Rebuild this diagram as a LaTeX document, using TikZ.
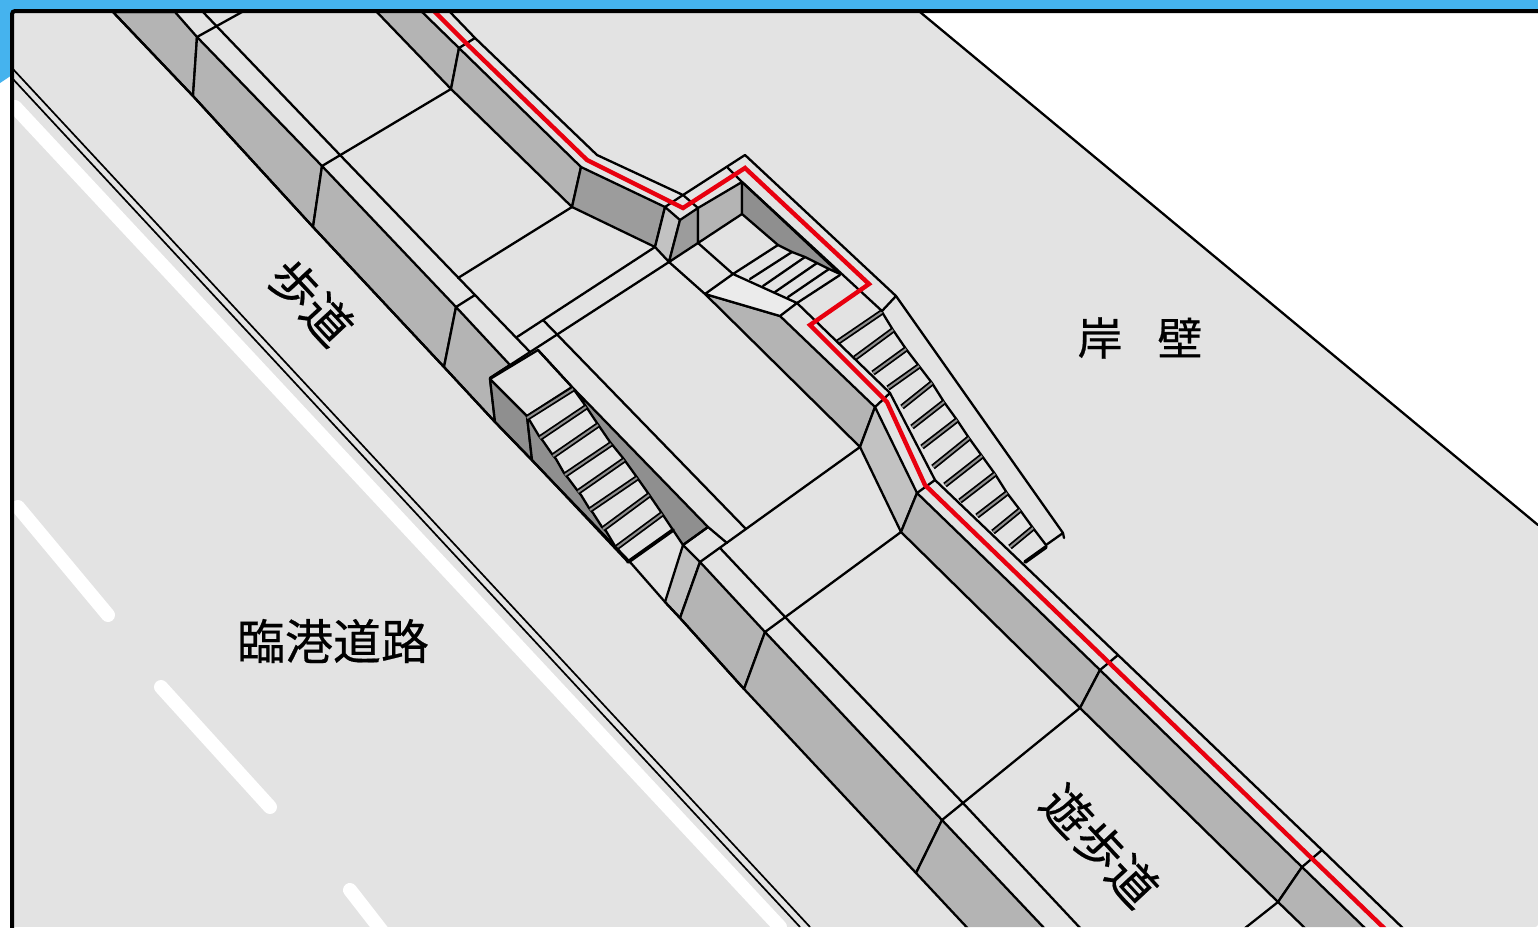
\documentclass[tikz,border=0pt]{standalone}
\usepackage{fontspec}
\newfontfamily\cjk[FakeBold=0.4]{Noto Sans CJK JP}
\definecolor{skyblue}{HTML}{45B3EE}
\definecolor{groundgray}{HTML}{E3E3E3}
\definecolor{wallgray}{HTML}{B4B4B4}
\definecolor{lightwall}{HTML}{C2C2C2}
\definecolor{darkwall}{HTML}{9C9C9C}
\definecolor{stairwall}{HTML}{8F8F8F}
\definecolor{routered}{HTML}{E8000F}
\tikzset{
  edge/.style={draw=black,line width=2.3pt,line join=round,line cap=round},
  wallface/.style={edge,fill=wallgray},
  lightface/.style={edge,fill=lightwall},
  darkface/.style={edge,fill=darkwall},
  stairface/.style={edge,fill=stairwall},
  roadline/.style={draw=black,line width=1.7pt},
  paint/.style={draw=white,line width=14pt,line cap=round},
  route/.style={draw=routered,line width=4.4pt,line join=miter},
  treadedge/.style={draw=black,line width=5.6pt},
  treadface/.style={draw=stairwall,line width=2pt},
  label/.style={font=\cjk,text=black,inner sep=0pt},
}
\begin{document}
\begin{tikzpicture}[x=1pt,y=-1pt]
  \useasboundingbox (0,0) rectangle (1538,927);
  \fill[white] (0,0) rectangle (1538,927);
  \fill[skyblue] (0,0) -- (1538,0) -- (1538,10) -- (12,10) -- (12,75) -- (0,83) -- cycle;

  \begin{scope}
    \clip[rounded corners=3pt] (12,11) -- (1538,11) -- (1538,927) -- (12,927) -- cycle;
    \fill[groundgray] (12,11) rectangle (1538,927);
    \fill[white] (920,12) -- (1538,12) -- (1538,525) -- cycle;
    \draw[edge] (920,12) -- (1538,525);

    % road
    \draw[roadline] (12,68) -- (810,927);
    \draw[roadline] (12,78) -- (800,927);
    \draw[paint] (15,107) -- (780,927);
    \draw[paint] (18,507) -- (108,615);
    \draw[paint] (161,687) -- (270,807);
    \draw[paint] (350,890) -- (385,935);

    % retaining walls
    \path[wallface] (113,12) -- (175,12) -- (197,37) -- (193,96) -- cycle;
    \path[wallface] (197,37) -- (322,166) -- (313,227) -- (193,96) -- cycle;
    \path[wallface] (322,166) -- (456,307) -- (444,367) -- (313,227) -- cycle;
    \path[wallface] (456,307) -- (510,365) -- (490,378) -- (495,422) -- (444,367) -- cycle;
    \path[wallface] (373,8) -- (418,8) -- (459,48) -- (451,89) -- cycle;
    \path[wallface] (459,48) -- (581,167) -- (572,207) -- (451,89) -- cycle;
    \path[darkface] (581,167) -- (665,207) -- (655,247) -- (572,207) -- cycle;
    \path[lightface] (665,207) -- (680,220) -- (669,262) -- (655,247) -- cycle;
    \path[darkface] (680,220) -- (698,208) -- (698,243) -- (669,262) -- cycle;
    \path[wallface] (698,208) -- (742,182) -- (742,214) -- (698,243) -- cycle;
    \path[wallface] (705,294) -- (780,316) -- (875,407) -- (860,447) -- cycle;
    \path[lightface] (875,407) -- (917,493) -- (901,532) -- (860,447) -- cycle;
    \path[wallface] (917,493) -- (1100,670) -- (1080,708) -- (901,532) -- cycle;
    \path[wallface] (1100,670) -- (1302,867) -- (1278,902) -- (1080,708) -- cycle;
    \path[wallface] (1302,867) -- (1400,962) -- (1340,962) -- (1278,902) -- cycle;
    \path[lightface] (683,545) -- (700,562) -- (680,618) -- (665,602) -- cycle;
    \path[wallface] (700,562) -- (765,632) -- (744,689) -- (680,618) -- cycle;
    \path[wallface] (765,632) -- (942,820) -- (916,873) -- (744,689) -- cycle;
    \path[wallface] (942,820) -- (1080,966) -- (1003,966) -- (916,873) -- cycle;

    % upper flight
    \path[stairface] (742,182) -- (742,214) -- (778,245) -- (792,252) -- (805,257)
      -- (817,263) -- (829,269) -- (840,274) -- cycle;
    \draw[edge,fill=groundgray!70!white] (705,294) -- (733,274) -- (797,303) -- (780,316) -- cycle;
    \foreach \lx/\ly/\rx/\ry in {733/274/778/245,750/279/792/252,763/286/805/257,
        775/292/817/263,788/297/829/269,797/303/840/275}
      \draw[edge] (\lx,\ly) -- (\rx,\ry);

    % long flight
    \draw[edge] (882,312) -- (893,330) -- (906,349) -- (919,366) -- (932,383)
      -- (944,402) -- (957,420) -- (969,438) -- (982,456) -- (995,474)
      -- (1007,493) -- (1020,510) -- (1033,528) -- (1046,545);
    \foreach \lx/\ly/\rx/\ry in {838/342/882/312,855/358/893/330,873/373/906/349,
        888/388/919/366,902/407/932/383,912/427/944/402,922/447/957/420,
        933/467/969/438,945/485/982/456,960/501/995/474,977/516/1007/493,
        993/532/1020/510,1010/547/1033/528}{
      \draw[treadedge] (\lx,\ly) -- (\rx,\ry);
      \draw[treadface] (\lx,\ly) -- (\rx,\ry);
    }
    \draw[edge,line width=3.8pt] (1025,562) -- (1046,547);

    % lower flight
    \path[stairface] (490,379) -- (527,416) -- (532,460) -- (495,422) -- cycle;
    \path[stairface] (527,416) -- (532,460) -- (628,562) -- (615,546) -- (606,531)
      -- (602,527) -- (593,513) -- (589,508) -- (581,495) -- (577,490) -- (568,478)
      -- (564,473) -- (556,459) -- (552,454) -- (543,441) -- (539,436) -- cycle;
    \path[stairface] (572,387) -- (708,527) -- (683,545) -- (673,530) -- (661,512)
      -- (648,493) -- (636,476) -- (623,458) -- (610,442) -- (597,423) -- (585,405) -- cycle;
    \draw[edge,fill=groundgray] (490,379) -- (538,350) -- (572,387) -- (527,416) -- cycle;
    \foreach \lx/\ly/\rx/\ry in {527/418/573/389,540/438/586/407,553/456/598/425,
        565/475/611/444,578/492/624/460,590/510/637/478,603/529/649/495,616/548/662/514}{
      \draw[treadedge] (\lx,\ly) -- (\rx,\ry);
      \draw[treadface] (\lx,\ly) -- (\rx,\ry);
    }
    \draw[edge,line width=3.8pt] (628,562) -- (673,530);

    % kerb and paving lines
    \draw[edge] (113,12) -- (193,96) -- (313,227) -- (444,367) -- (495,422);
    \draw[edge] (495,422) -- (630,562) -- (665,602) -- (680,618) -- (744,689);
    \draw[edge] (203,12) -- (340,155) -- (475,295) -- (530,352);
    \draw[edge] (197,37) -- (242,12);
    \draw[edge] (322,166) -- (451,89);
    \draw[edge] (456,307) -- (475,295);
    \draw[edge] (458,278) -- (572,207);
    \draw[edge] (517,337) -- (655,247);
    \draw[edge] (490,378) -- (669,262);
    \draw[edge] (543,320) -- (745,528);
    \draw[edge] (538,350) -- (572,387);
    \draw[edge] (450,12) -- (475,38) -- (597,155) -- (683,195) -- (745,155)
      -- (896,296) -- (1063,533);
    \draw[edge] (459,48) -- (475,38);
    \draw[edge] (665,207) -- (683,195) -- (698,208);
    \draw[edge] (728,168) -- (742,182) -- (882,311) -- (896,296);
    \draw[edge] (1046,545) -- (1063,533) -- (1064,538);
    \draw[edge] (669,262) -- (705,294);
    \draw[edge] (698,243) -- (733,274);
    \draw[edge] (797,303) -- (890,393) -- (935,480) -- (1118,655) -- (1322,850) -- (1410,935);
    \draw[edge] (875,407) -- (890,393);
    \draw[edge] (917,493) -- (935,480);
    \draw[edge] (1100,670) -- (1118,655);
    \draw[edge] (1302,867) -- (1322,850);
    \draw[edge] (683,545) -- (708,527) -- (727,543);
    \draw[edge] (860,447) -- (700,562);
    \draw[edge] (720,548) -- (786,618) -- (962,802) -- (1082,930);
    \draw[edge] (901,532) -- (765,632);
    \draw[edge] (1080,708) -- (942,820);
    \draw[edge] (1278,902) -- (1240,932);

    % route
    \draw[route] (433,10) -- (467,44) -- (587,160) -- (683,208) -- (745,168) -- (869,284)
      -- (810,325) -- (887,402) -- (925,485) -- (1385,929);
  \end{scope}

  \draw[draw=black,line width=4pt,rounded corners=3pt] (1540,11) -- (12,11) -- (12,929);

  \node[label,font=\cjk\fontsize{48}{50}\selectfont] (road) at (333,641) {臨港道路};
  \node[label,font=\cjk\fontsize{45}{48}\selectfont] (quay) at (1140,338) {岸\hspace{35pt}壁};
  \node[label,font=\cjk\fontsize{48}{50}\selectfont,rotate=-47] (walk) at (311,302) {歩道};
  \node[label,font=\cjk\fontsize{48}{50}\selectfont,rotate=-47] (prom) at (1100,846) {遊歩道};
\end{tikzpicture}
\end{document}
